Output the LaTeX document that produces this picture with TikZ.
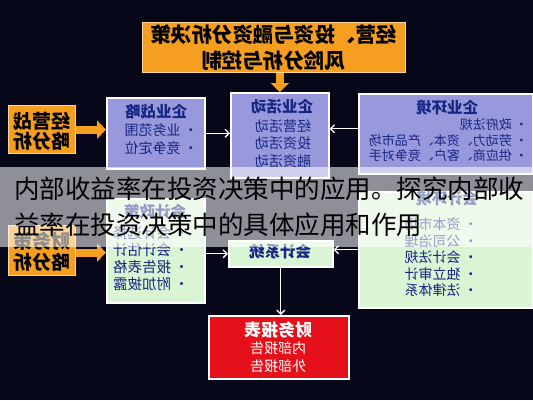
\documentclass[tikz,border=0pt]{standalone}
\usepackage{fontspec}
\setmainfont{Noto Sans CJK SC}
\usetikzlibrary{arrows.meta}
\definecolor{bgc}{RGB}{6,8,26}
\definecolor{orng}{RGB}{245,158,32}
\definecolor{orngb}{RGB}{252,214,150}
\definecolor{purp}{RGB}{152,152,220}
\definecolor{lgrn}{RGB}{218,245,212}
\definecolor{redb}{RGB}{230,16,26}
\definecolor{dblue}{RGB}{22,38,130}
\newcommand{\mir}[1]{\reflectbox{#1}}
\newcommand{\fsz}[2]{\fontsize{#1}{#2}\selectfont}
\begin{document}
\begin{tikzpicture}[x=1pt,y=-1pt,
  box/.style={draw=white, line width=1.6pt, anchor=north west, inner sep=0pt},
  pbox/.style={box, fill=purp},
  gbox/.style={box, fill=lgrn},
  obox/.style={box, draw=orngb, line width=1.2pt, fill=orng},
  rbox/.style={box, fill=redb},
  ttl/.style={inner sep=0pt, font=\fsz{15.5}{18}\bfseries, text=dblue},
  itm/.style={inner sep=0pt, font=\fsz{14}{18}, text=dblue},
  otxt/.style={inner sep=0pt, font=\fsz{19}{20}\bfseries, text=black},
  orarrow/.style={draw=orng, line width=8pt, -{Triangle[width=18pt,length=9pt]}},
  warrow/.style={draw=white, line width=1.3pt, -{Straight Barb[length=4pt,width=8pt]}},
  captxt/.style={inner sep=0pt, anchor=west, font=\fsz{25.5}{30}, text=black}
]
\useasboundingbox (0,0) rectangle (533,400);
\fill[bgc] (0,0) rectangle (533,400);

% top box
\node[obox, draw=orngb, minimum width=263pt, minimum height=50pt] (T) at (142,22) {};
\node[inner sep=0pt, font=\fsz{20.5}{22}\bfseries] (T1) at (273.5,35) {\mir{经营、投资与融资分析决策}};
\node[inner sep=0pt, font=\fsz{20.5}{22}\bfseries] (T2) at (273.5,61) {\mir{风险分析与控制}};

% left orange boxes
\node[obox, minimum width=67pt, minimum height=48pt] (O1) at (8,105) {};
\node[otxt] (O1a) at (41.5,121) {\mir{经营战}};
\node[otxt] (O1b) at (41.5,141) {\mir{略分析}};
\node[obox, minimum width=67pt, minimum height=50pt] (O2) at (8,225) {};
\node[otxt] (O2a) at (41.5,241) {\mir{财务策}};
\node[otxt] (O2b) at (41.5,262) {\mir{略分析}};

% A: enterprise strategy
\node[pbox, minimum width=98pt, minimum height=71pt] (A) at (106,97) {};
\node[ttl] (At) at (156,112) {\mir{企业战略}};
\node[itm, anchor=east] (Ai) at (198,141) {\mir{\begin{tabular}{@{}l@{}}• 业务范围\\• 竞争定位\end{tabular}}};

% B: enterprise activities
\node[pbox, minimum width=98pt, minimum height=85pt] (B) at (230,92) {};
\node[ttl] (Bt) at (282,107) {\mir{企业活动}};
\node[itm, font=\fsz{14}{17.5}] (Bi) at (283,145) {\mir{\begin{tabular}{@{}c@{}}经营活动\\投资活动\\融资活动\end{tabular}}};

% C: enterprise environment
\node[pbox, minimum width=174pt, minimum height=80pt] (C) at (358,93) {};
\node[ttl] (Ct) at (447,108) {\mir{企业环境}};
\node[itm, font=\fsz{13}{15}, anchor=east] (Ci) at (528,142) {\mir{\begin{tabular}{@{}l@{}}• 政府法规\\• 劳动力、资本、产品市场\\• 供应商、客户、竞争对手\end{tabular}}};

% D: accounting policy
\node[gbox, minimum width=98pt, minimum height=104pt] (D) at (106,198) {};
\node[ttl] (Dt) at (155,212) {\mir{会计政策}};
\node[itm, font=\fsz{14.5}{16.5}, anchor=east] (Di) at (189,260.5) {\mir{\begin{tabular}{@{}l@{}}• 会计选择\\• 会计估计\\• 报告表格\\• 附加披露\end{tabular}}};

% E: accounting system
\node[gbox, minimum width=104pt, minimum height=26pt] (E) at (228,240) {};
\node[ttl] (Et) at (280,252) {\mir{会计系统}};

% F: accounting environment
\node[gbox, minimum width=174pt, minimum height=116pt] (F) at (358,191) {};
\node[ttl] (Ft) at (447,199) {\mir{会计环境}};
\node[itm, font=\fsz{14}{15.5}, anchor=east] (Fi) at (478,259) {\mir{\begin{tabular}{@{}l@{}}• 资本市场\\• 公司治理\\• 会计法规\\• 独立审计\\• 法律体系\end{tabular}}};

% G: financial statements
\node[rbox, minimum width=140pt, minimum height=63pt] (G) at (208,315) {};
\node[ttl, text=white, font=\fsz{17}{20}\bfseries] (Gt) at (278,330) {\mir{财务报表}};
\node[itm, text=white] (Gi) at (278,359) {\mir{\begin{tabular}{@{}c@{}}内部报告\\外部报告\end{tabular}}};

% arrows
\draw[orarrow] (B.north |- T.south) -- (B.north);
\draw[orarrow] (O1.east) -- (O1.east -| A.west);
\draw[orarrow] ([yshift=-2pt]O2.east) -- ([yshift=-2pt]O2.east -| D.west);
\draw[warrow] (A.east) -- (A.east -| B.west);
\draw[warrow] ([yshift=5pt]C.west) -- ([yshift=5pt]C.west -| B.east);
\draw[warrow] (E.west -| D.east) -- (E.west);
\draw[warrow] ([yshift=4pt]E.east -| F.west) -- ([yshift=4pt]E.east);
\draw[warrow] (E.south) -- (E.south |- G.north);

% overlay band and caption
\fill[white, opacity=0.55] (0,167) rectangle (533,247);
\node[captxt] (cap1) at (14,189) {内部收益率在投资决策中的应用。探究内部收};
\node[captxt] (cap2) at (14,225) {益率在投资决策中的具体应用和作用};
\end{tikzpicture}
\end{document}
